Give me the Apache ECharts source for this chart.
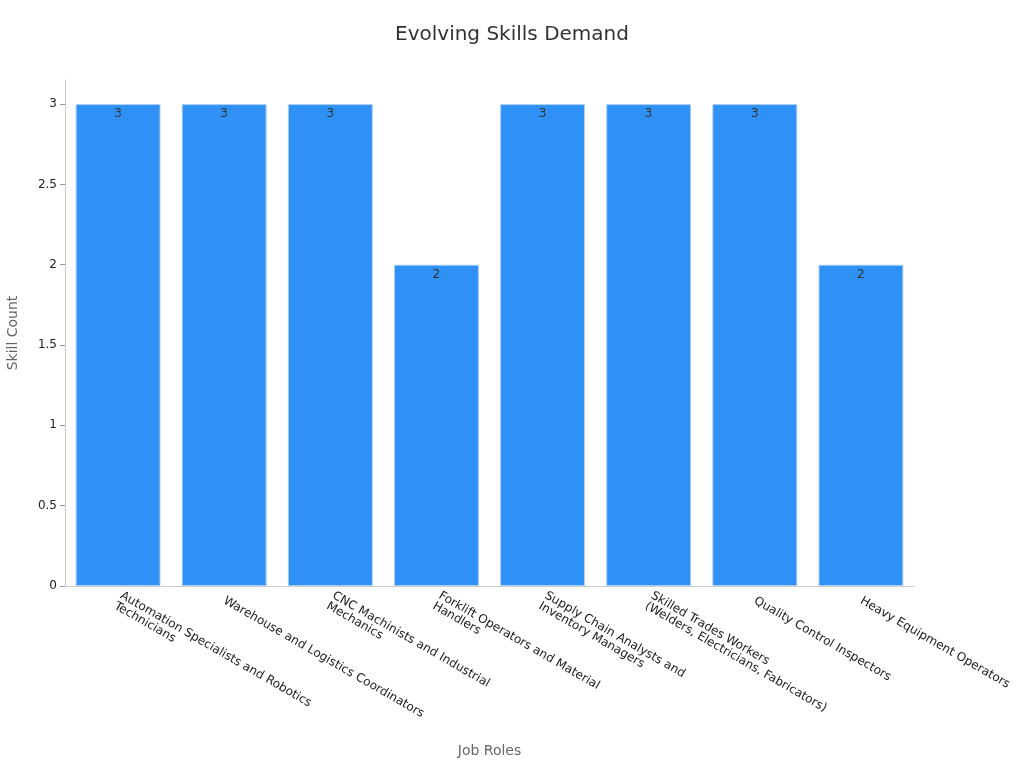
<!DOCTYPE html>
<html><head><meta charset="utf-8">
<script src="https://cdn.jsdelivr.net/npm/echarts@6/dist/echarts.min.js"></script>
<style>html,body{margin:0;padding:0;background:#fff}#c{width:1024px;height:768px}</style>
</head><body><div id="c"></div>
<script>
const categories = [
  "Automation Specialists and Robotics\nTechnicians",
  "Warehouse and Logistics Coordinators",
  "CNC Machinists and Industrial\nMechanics",
  "Forklift Operators and Material\nHandlers",
  "Supply Chain Analysts and\nInventory Managers",
  "Skilled Trades Workers\n(Welders, Electricians, Fabricators)",
  "Quality Control Inspectors",
  "Heavy Equipment Operators"
];
const skillCounts = [3, 3, 3, 2, 3, 3, 3, 2];
const chart = echarts.init(document.getElementById('c'));
chart.setOption({
  textStyle: {fontFamily: 'DejaVu Sans'},
  title: {text: 'Evolving Skills Demand', left: 'center', top: 20,
    textStyle: {fontSize: 20, fontWeight: 'normal', color: '#333'}},
  grid: {left: 65, right: 110, top: 80, bottom: 182, containLabel: false, outerBoundsMode: 'none'},
  xAxis: {type: 'category', data: categories, name: 'Job Roles', nameLocation: 'middle', nameGap: 158,
    nameTextStyle: {fontSize: 14, color: '#666'},
    axisLine: {lineStyle: {color: '#ccc'}}, axisTick: {alignWithLabel: true, lineStyle: {color: '#999'}},
    axisLabel: {rotate: -30, interval: 0, fontSize: 12, color: '#222', align: 'left', margin: 14}},
  yAxis: {type: 'value', min: 0, max: 3.15, interval: 0.5, name: 'Skill Count', nameLocation: 'middle', nameGap: 45,
    nameTextStyle: {fontSize: 14, color: '#666'},
    axisLine: {show: true, lineStyle: {color: '#ccc'}}, axisTick: {show: true, lineStyle: {color: '#999'}},
    splitLine: {show: false}, axisLabel: {fontSize: 12, color: '#222', showMaxLabel: false}},
  series: [{type: 'bar', data: skillCounts, barCategoryGap: '20%',
    itemStyle: {color: '#2f90f5', borderColor: '#a8cff8', borderWidth: 1},
    label: {show: true, position: 'insideTop', color: '#333', fontSize: 12, distance: 4}}]
});
</script></body></html>
